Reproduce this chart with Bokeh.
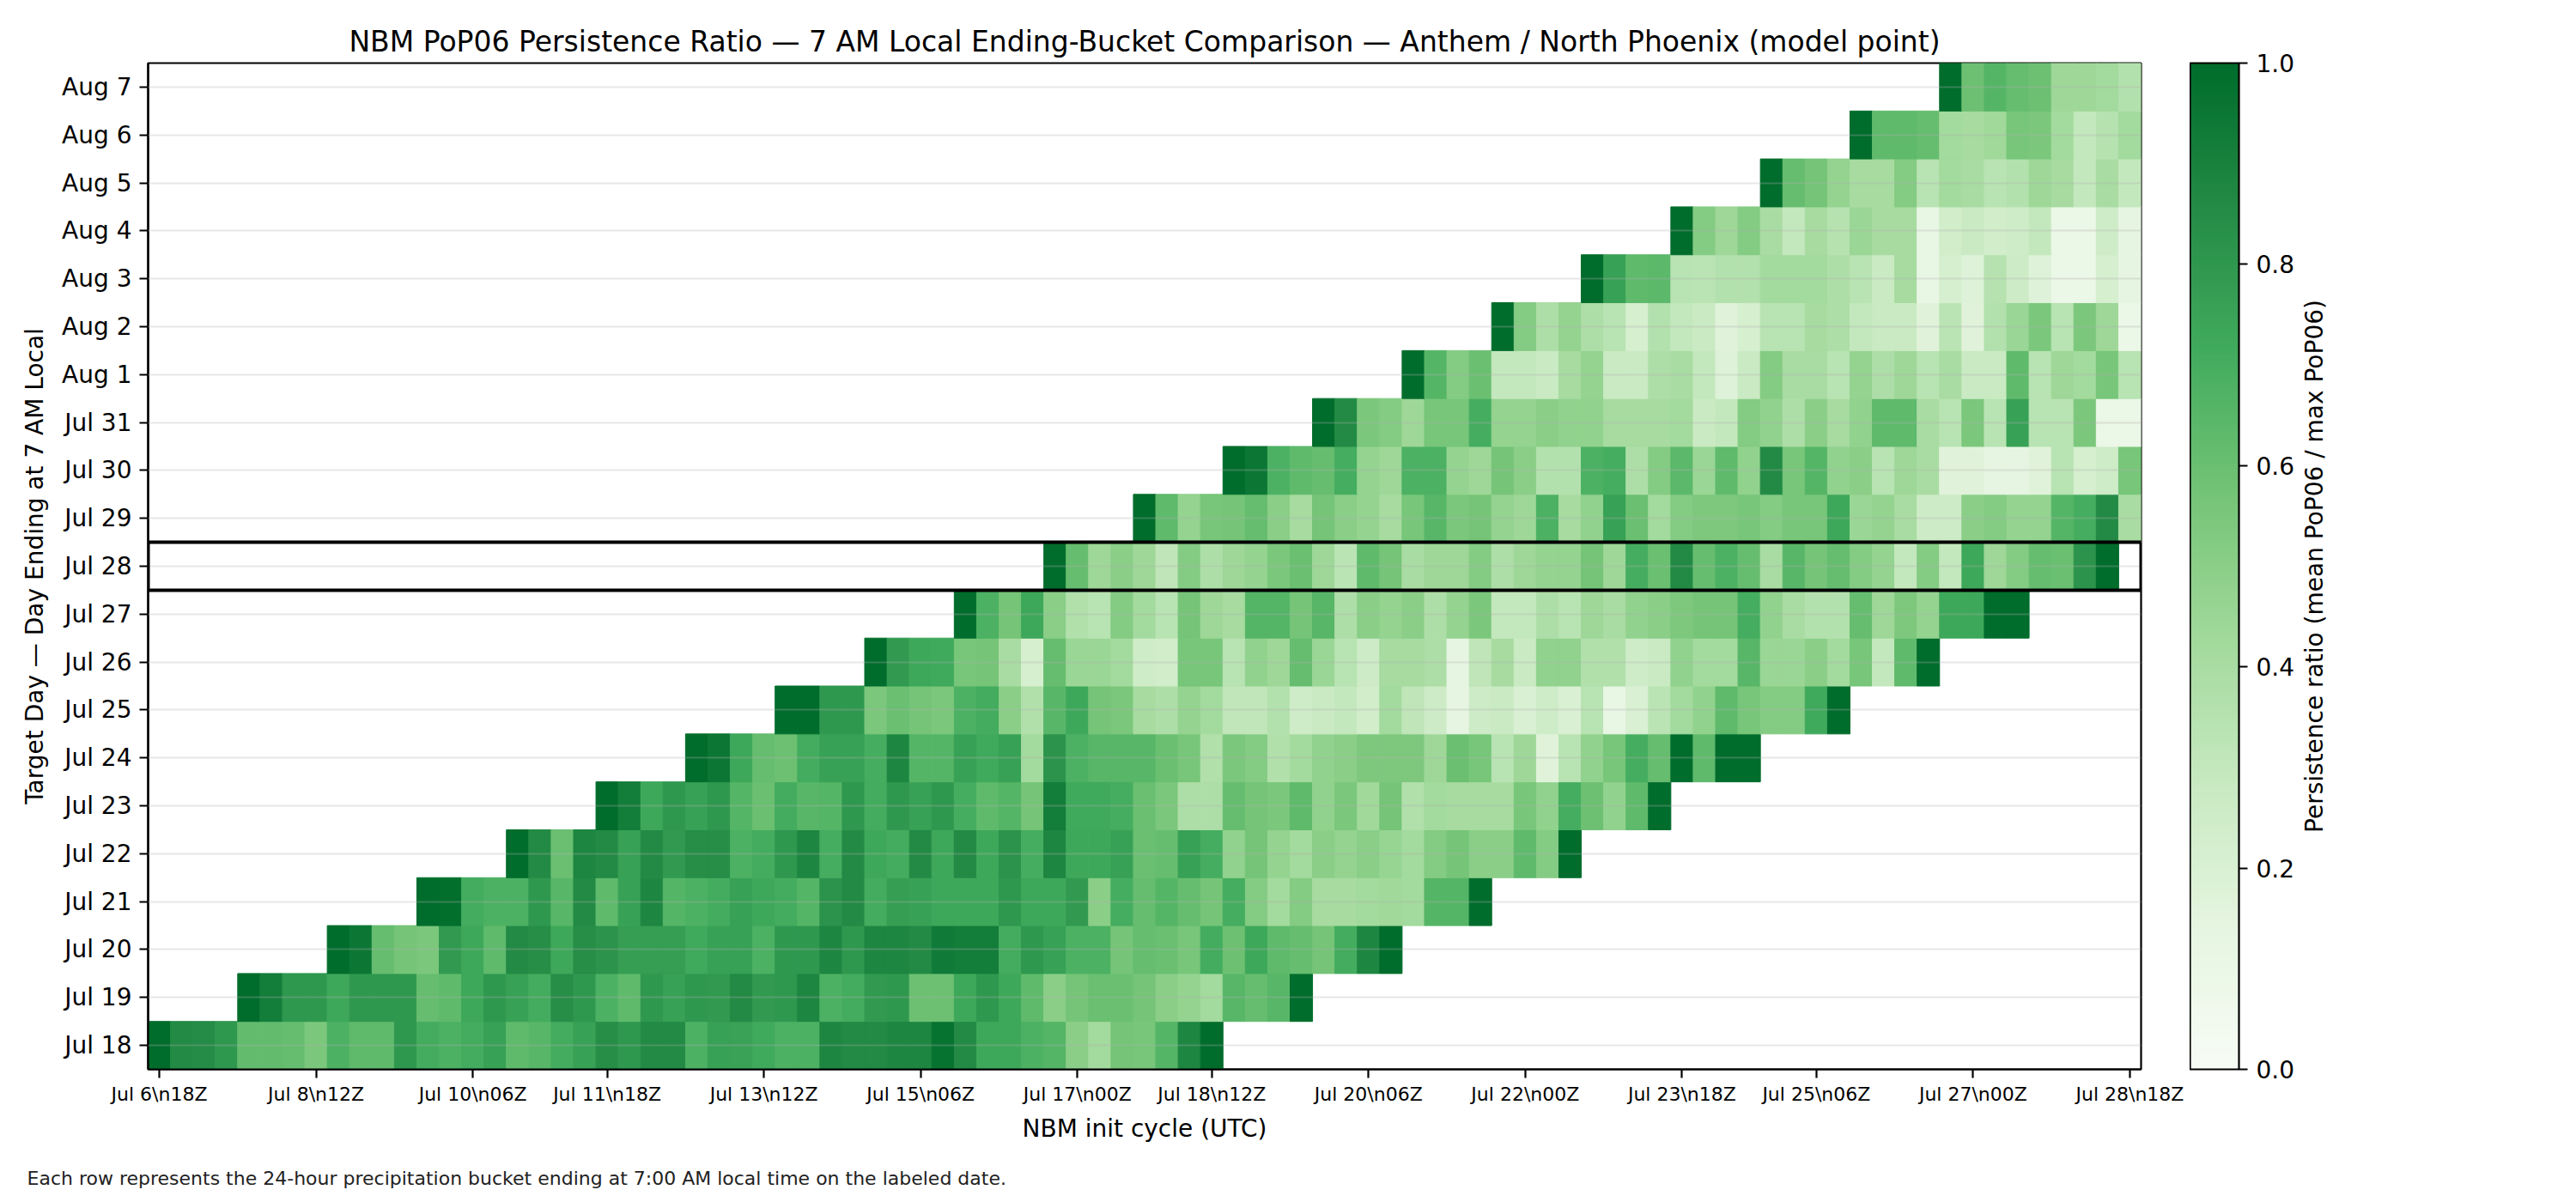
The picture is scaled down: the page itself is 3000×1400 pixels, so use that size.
import numpy as np
import pandas as pd
from bokeh.plotting import figure
from bokeh.layouts import row, column
from bokeh.models import (ColumnDataSource, Range1d, FixedTicker, BoxAnnotation, Label,
                          NumeralTickFormatter, LinearColorMapper, ColorBar)
from bokeh.embed import file_html
from bokeh.resources import INLINE

FONT = "DejaVu Sans"
TITLE = ("NBM PoP06 Persistence Ratio \u2014 7 AM Local Ending-Bucket Comparison "
         "\u2014 Anthem / North Phoenix (model point)")
FOOTER = ("Each row represents the 24-hour precipitation bucket ending at "
          "7:00 AM local time on the labeled date.")
CBAR_LABEL = "Persistence ratio (mean PoP06 / max PoP06)"

# NBM init cycles, every 6 h
cycles = pd.date_range("2025-07-06 18:00", "2025-07-28 18:00", freq="6h")
cycle_labels = [f"{d.strftime('%b')} {d.day}\\n{d.strftime('%H')}Z" for d in cycles]

tick_labels = ["Jul 6\\n18Z", "Jul 8\\n12Z", "Jul 10\\n06Z", "Jul 11\\n18Z", "Jul 13\\n12Z",
               "Jul 15\\n06Z", "Jul 17\\n00Z", "Jul 18\\n12Z", "Jul 20\\n06Z", "Jul 22\\n00Z",
               "Jul 23\\n18Z", "Jul 25\\n06Z", "Jul 27\\n00Z", "Jul 28\\n18Z"]

# target days (24-h bucket ending 7 AM local)
day_labels = ["Jul 18", "Jul 19", "Jul 20", "Jul 21", "Jul 22", "Jul 23", "Jul 24",
              "Jul 25", "Jul 26", "Jul 27", "Jul 28", "Jul 29", "Jul 30", "Jul 31",
              "Aug 1", "Aug 2", "Aug 3", "Aug 4", "Aug 5", "Aug 6", "Aug 7"]

# first init cycle that covers each target day
first_cycle = ["Jul 6\\n18Z", "Jul 7\\n18Z", "Jul 8\\n18Z", "Jul 9\\n18Z", "Jul 10\\n18Z",
               "Jul 11\\n18Z", "Jul 12\\n18Z", "Jul 13\\n18Z", "Jul 14\\n18Z", "Jul 15\\n18Z",
               "Jul 16\\n18Z", "Jul 17\\n18Z", "Jul 18\\n18Z", "Jul 19\\n18Z", "Jul 20\\n18Z",
               "Jul 21\\n18Z", "Jul 22\\n18Z", "Jul 23\\n18Z", "Jul 24\\n18Z", "Jul 25\\n18Z",
               "Jul 26\\n18Z"]

highlight_day = "Jul 28"

# persistence ratio per init cycle, one list per target day
jul18 = [1.0, 0.86, 0.85, 0.8, 0.62, 0.62, 0.61, 0.55, 0.68, 0.63, 0.63, 0.8, 0.71, 0.68, 0.71,
         0.76, 0.63, 0.65, 0.71, 0.76, 0.84, 0.8, 0.86, 0.86, 0.68, 0.76, 0.75, 0.72, 0.68, 0.68,
         0.88, 0.86, 0.86, 0.88, 0.88, 0.97, 0.86, 0.73, 0.73, 0.68, 0.66, 0.5, 0.42, 0.57, 0.56,
         0.66, 0.88, 1.0]
jul19 = [1.0, 0.92, 0.8, 0.8, 0.73, 0.8, 0.8, 0.8, 0.61, 0.63, 0.73, 0.8, 0.76, 0.71, 0.84,
         0.8, 0.68, 0.63, 0.8, 0.76, 0.8, 0.79, 0.86, 0.79, 0.8, 0.88,
         0.68, 0.71, 0.79, 0.8, 0.59, 0.59, 0.73, 0.8, 0.73, 0.63, 0.5, 0.57, 0.6, 0.6, 0.57,
         0.5, 0.47, 0.42, 0.65, 0.61, 0.65, 1.0]
jul20 = [1.0, 0.95, 0.61, 0.57, 0.55, 0.79, 0.73, 0.63, 0.86, 0.84, 0.73, 0.84, 0.82, 0.77,
         0.77, 0.77, 0.72, 0.76, 0.76, 0.68, 0.8, 0.8,
         0.88, 0.8, 0.88, 0.88, 0.86, 0.93, 0.92, 0.92, 0.71, 0.8, 0.76, 0.68, 0.68, 0.57, 0.61,
         0.6, 0.56, 0.71, 0.59, 0.73, 0.63, 0.61, 0.57, 0.71, 0.88, 1.0]
jul21 = [1.0, 0.99, 0.71, 0.68, 0.68, 0.8, 0.65, 0.86, 0.63, 0.76, 0.88, 0.66, 0.68, 0.71,
         0.76, 0.73, 0.71, 0.66,
         0.82, 0.86, 0.71, 0.77, 0.76, 0.73, 0.73, 0.73, 0.8, 0.73, 0.73, 0.79, 0.5, 0.7, 0.61,
         0.66, 0.61, 0.57, 0.7, 0.52, 0.42, 0.52, 0.41, 0.41, 0.42, 0.43, 0.42, 0.66, 0.66, 1.0]
jul22 = [1.0, 0.86, 0.6, 0.88, 0.86, 0.76, 0.86, 0.79, 0.84, 0.84, 0.68, 0.71, 0.8, 0.88, 0.7,
         0.86, 0.73, 0.71, 0.86, 0.73, 0.86, 0.73, 0.82, 0.7, 0.88, 0.73, 0.73, 0.76, 0.6, 0.61,
         0.76, 0.7, 0.48, 0.57, 0.47, 0.42, 0.5, 0.47, 0.5, 0.46, 0.42, 0.52, 0.57, 0.5, 0.5,
         0.63, 0.52, 1.0]
jul23 = [1.0, 0.92, 0.73, 0.8, 0.76, 0.8, 0.66, 0.6, 0.71, 0.65, 0.66, 0.8, 0.71, 0.8, 0.76,
         0.8, 0.7, 0.63, 0.66, 0.57, 0.92, 0.72, 0.72, 0.7, 0.6, 0.55,
         0.38, 0.38, 0.61, 0.57, 0.55, 0.63, 0.48, 0.55, 0.43, 0.57, 0.37, 0.42, 0.41, 0.41,
         0.41, 0.56, 0.48, 0.7, 0.59, 0.48, 0.63, 1.0]
jul24 = [1.0, 0.95, 0.73, 0.61, 0.59, 0.71, 0.76, 0.76, 0.7, 0.88, 0.66, 0.66, 0.76, 0.72,
         0.76, 0.42, 0.82, 0.68, 0.65, 0.65, 0.65, 0.6,
         0.56, 0.37, 0.55, 0.52, 0.37, 0.42, 0.48, 0.5, 0.54, 0.54, 0.54, 0.44, 0.6, 0.56, 0.34,
         0.44, 0.17, 0.34, 0.48, 0.56, 0.7, 0.61, 1.0, 0.63, 1.0, 1.0]
jul25 = [1.0, 1.0, 0.8, 0.8, 0.55, 0.6, 0.57, 0.55, 0.68, 0.71, 0.5, 0.37, 0.65, 0.73, 0.57,
         0.55, 0.41, 0.38,
         0.47, 0.42, 0.31, 0.31, 0.36, 0.25, 0.28, 0.3, 0.24, 0.42, 0.32, 0.26, 0.14, 0.26, 0.28,
         0.2, 0.25, 0.2, 0.34, 0.12, 0.2, 0.33, 0.42, 0.48, 0.63, 0.56, 0.52, 0.52, 0.72, 1.0]
jul26 = [1.0, 0.79, 0.73, 0.72, 0.56, 0.57, 0.4, 0.22, 0.61, 0.45, 0.45, 0.42, 0.25, 0.24,
         0.56, 0.56, 0.34, 0.48, 0.44, 0.61, 0.45, 0.34, 0.26, 0.41, 0.41, 0.38, 0.14, 0.32,
         0.41, 0.28, 0.48, 0.48, 0.37, 0.37, 0.25, 0.27, 0.48, 0.42, 0.42, 0.65, 0.45, 0.45,
         0.5, 0.42, 0.56, 0.3, 0.63, 1.0]
jul27 = [1.0, 0.68, 0.57, 0.73, 0.5, 0.37, 0.34, 0.52, 0.42, 0.34, 0.57, 0.44, 0.41, 0.66,
         0.66, 0.57, 0.65, 0.38, 0.5, 0.47, 0.5, 0.38, 0.47, 0.55,
         0.3, 0.3, 0.38, 0.34, 0.44, 0.4, 0.48, 0.5, 0.54, 0.57, 0.57, 0.7, 0.48, 0.4, 0.36,
         0.36, 0.61, 0.44, 0.54, 0.47, 0.73, 0.73, 1.0, 1.0]
jul28 = [1.0, 0.61, 0.44, 0.5, 0.44, 0.32, 0.52, 0.38, 0.44, 0.47, 0.55, 0.6, 0.44, 0.33,
         0.63, 0.57, 0.4, 0.44, 0.44, 0.52,
         0.38, 0.44, 0.47, 0.47, 0.57, 0.44, 0.7, 0.6, 0.86, 0.61, 0.68, 0.61, 0.4, 0.65, 0.57,
         0.61, 0.52, 0.47, 0.3, 0.52, 0.3, 0.73, 0.44, 0.52, 0.61, 0.6, 0.82, 1.0]
jul29 = [1.0, 0.63, 0.47, 0.56, 0.57, 0.61, 0.5, 0.41, 0.57, 0.5, 0.47, 0.41, 0.56, 0.65,
         0.55, 0.57,
         0.47, 0.44, 0.68, 0.41, 0.48, 0.76, 0.6, 0.42, 0.52, 0.54, 0.54, 0.56, 0.52, 0.56,
         0.56, 0.73, 0.45, 0.47, 0.4, 0.26, 0.26, 0.5, 0.52, 0.47, 0.47, 0.66, 0.7, 0.86, 0.4]
jul30 = [1.0, 0.95, 0.68, 0.63, 0.61, 0.7, 0.47, 0.44, 0.68, 0.68, 0.47, 0.44, 0.57, 0.5,
         0.36, 0.36, 0.68, 0.7, 0.38, 0.52,
         0.64, 0.45, 0.63, 0.48, 0.86, 0.56, 0.66, 0.48, 0.5, 0.34, 0.44, 0.4, 0.17, 0.17, 0.14,
         0.14, 0.17, 0.34, 0.22, 0.25, 0.56]
jul31 = [1.0, 0.86, 0.55, 0.52, 0.44, 0.56, 0.56, 0.7, 0.47, 0.47, 0.5, 0.48, 0.48, 0.41,
         0.41, 0.41,
         0.42, 0.27, 0.3, 0.52, 0.48, 0.38, 0.5, 0.41, 0.48, 0.63, 0.63, 0.4, 0.34, 0.55, 0.34,
         0.76, 0.34, 0.34, 0.55, 0.1, 0.1]
aug1 = [1.0, 0.66, 0.52, 0.6, 0.3, 0.3, 0.28, 0.41, 0.47, 0.28, 0.27, 0.38,
        0.4, 0.3, 0.18, 0.27, 0.52, 0.4, 0.4, 0.34, 0.47, 0.38, 0.44, 0.34, 0.4, 0.28, 0.28,
        0.63, 0.34, 0.44, 0.42, 0.56, 0.34]
aug2 = [1.0, 0.52, 0.38, 0.47, 0.38, 0.34, 0.22, 0.36,
        0.3, 0.27, 0.17, 0.22, 0.34, 0.34, 0.41, 0.38, 0.3, 0.28, 0.27, 0.17, 0.33, 0.17, 0.36,
        0.45, 0.55, 0.34, 0.55, 0.44, 0.1]
aug3 = [1.0, 0.76, 0.63, 0.64, 0.34, 0.33, 0.36, 0.36, 0.42, 0.42, 0.42, 0.38, 0.34, 0.27,
        0.41, 0.12, 0.22, 0.18, 0.35, 0.26, 0.18, 0.1, 0.1, 0.22, 0.14]
aug4 = [1.0, 0.52, 0.44, 0.52, 0.4, 0.3, 0.41, 0.35, 0.45, 0.41, 0.41, 0.12, 0.24, 0.28,
        0.24, 0.25, 0.3, 0.1, 0.1, 0.25, 0.14]
aug5 = [1.0, 0.61, 0.57, 0.47, 0.41, 0.41, 0.52, 0.34, 0.42, 0.4, 0.34, 0.36, 0.44, 0.41,
        0.3, 0.4, 0.3]
aug6 = [1.0, 0.63, 0.63, 0.61, 0.42, 0.41, 0.43, 0.56, 0.55, 0.42, 0.3, 0.35, 0.42]
aug7 = [1.0, 0.59, 0.66, 0.61, 0.59, 0.44, 0.44, 0.42, 0.36]

rows = [jul18, jul19, jul20, jul21, jul22, jul23, jul24, jul25, jul26, jul27, jul28,
        jul29, jul30, jul31, aug1, aug2, aug3, aug4, aug5, aug6, aug7]

# Greens (ColorBrewer) ramp, light to dark
greens_nodes = ["#f7fcf5", "#e5f5e0", "#c7e9c0", "#a1d99b",
                "#74c476", "#41ab5d", "#238b45", "#006d2c"]


def build_palette(nodes, n=256):
    rgb = np.array([[int(h[i:i + 2], 16) for i in (1, 3, 5)] for h in nodes], float)
    pos = np.linspace(0, 1, len(nodes))
    t = np.linspace(0, 1, n)
    chans = [np.interp(t, pos, rgb[:, k]) for k in range(3)]
    return ["#%02x%02x%02x" % (int(round(r)), int(round(g)), int(round(b)))
            for r, g, b in zip(*chans)]


palette = build_palette(greens_nodes)
mapper = LinearColorMapper(palette=palette, low=0, high=1)

# long-form cell table
xs, ys, vals = [], [], []
for ri, (vals_row, first) in enumerate(zip(rows, first_cycle)):
    start = cycle_labels.index(first)
    for k, v in enumerate(vals_row):
        xs.append(start + k)
        ys.append(ri)
        vals.append(v)
src = ColumnDataSource(dict(x=xs, y=ys, ratio=vals))

n_cycles = len(cycle_labels)
n_days = len(day_labels)

# ---- heatmap -------------------------------------------------------------
p = figure(width=2550, height=1345,
           x_range=Range1d(-0.5, n_cycles - 0.5), y_range=Range1d(-0.5, n_days - 0.5),
           output_backend="svg", toolbar_location=None,
           min_border_left=172, min_border_right=57, min_border_top=73, min_border_bottom=100)
p.background_fill_color = "white"
p.border_fill_color = "white"

cell_color = {"field": "ratio", "transform": mapper}
p.rect(x="x", y="y", width=1, height=1, source=src,
       fill_color=cell_color, line_color=cell_color, line_width=1)

p.title.text = TITLE
p.title.align = "center"
p.title.text_font = FONT
p.title.text_font_size = "33px"
p.title.text_font_style = "normal"
p.title.text_color = "black"
p.title.standoff = 12

tick_idx = [cycle_labels.index(t) for t in tick_labels]
p.xaxis.ticker = FixedTicker(ticks=tick_idx)
p.xaxis.major_label_overrides = {i: t for i, t in zip(tick_idx, tick_labels)}
p.yaxis.ticker = FixedTicker(ticks=list(range(n_days)))
p.yaxis.major_label_overrides = {i: d for i, d in enumerate(day_labels)}
p.xaxis.axis_label = "NBM init cycle (UTC)"
p.yaxis.axis_label = "Target Day \u2014 Day Ending at 7 AM Local"

for ax in (p.xaxis[0], p.yaxis[0]):
    ax.axis_line_color = "black"
    ax.axis_line_width = 2.2
    ax.major_tick_line_color = "black"
    ax.major_tick_line_width = 2.2
    ax.major_tick_out = 10
    ax.major_tick_in = 0
    ax.minor_tick_line_color = None
    ax.major_label_text_font = FONT
    ax.major_label_text_color = "black"
    ax.axis_label_text_font = FONT
    ax.axis_label_text_font_style = "normal"
    ax.axis_label_text_font_size = "28px"
    ax.axis_label_text_color = "black"

p.xaxis.major_label_text_font_size = "22px"
p.xaxis.major_label_standoff = 6
p.xaxis.axis_label_standoff = 8
p.yaxis.major_label_text_font_size = "28px"
p.yaxis.major_label_standoff = 9
p.yaxis.axis_label_standoff = 12

p.xgrid.visible = False
p.ygrid.ticker = FixedTicker(ticks=list(range(n_days)))
p.ygrid.grid_line_color = "#b0b0b0"
p.ygrid.grid_line_alpha = 0.3
p.ygrid.grid_line_width = 2.2
p.ygrid.level = "annotation"

p.outline_line_color = "black"
p.outline_line_width = 2.2
p.outline_line_alpha = 1.0

# highlighted target day
hi = day_labels.index(highlight_day)
p.add_layout(BoxAnnotation(left=-0.5, right=n_cycles - 0.5, bottom=hi - 0.5, top=hi + 0.5,
                           fill_alpha=0, line_color="black", line_alpha=1.0, line_width=4,
                           level="overlay"))

# ---- colour bar panel ----------------------------------------------------
cb = figure(width=450, height=1345, x_range=Range1d(0, 450), y_range=Range1d(0, 1172),
            output_backend="svg", toolbar_location=None,
            x_axis_location=None, y_axis_location=None,
            min_border_left=0, min_border_right=0, min_border_top=73, min_border_bottom=100)
cb.outline_line_color = None
cb.background_fill_color = "white"
cb.border_fill_color = "white"
cb.xgrid.visible = False
cb.ygrid.visible = False

color_bar = ColorBar(color_mapper=mapper, location="top_left", orientation="vertical",
                     width=57, height=1172, padding=0, margin=0,
                     ticker=FixedTicker(ticks=[0.0, 0.2, 0.4, 0.6, 0.8, 1.0]),
                     formatter=NumeralTickFormatter(format="0.0"),
                     major_label_text_font=FONT, major_label_text_font_size="28px",
                     major_label_text_color="black",
                     major_tick_line_color="black", major_tick_line_width=2.2,
                     major_tick_out=10, major_tick_in=0,
                     minor_tick_line_color=None,
                     bar_line_color="black", bar_line_width=2.2,
                     border_line_color=None, background_fill_color=None,
                     label_standoff=10)
cb.add_layout(color_bar, "center")
cb.add_layout(Label(x=145, y=586, text=CBAR_LABEL, angle=np.pi / 2,
                    text_font=FONT, text_font_size="28px", text_color="black",
                    text_align="center", text_baseline="middle"))

# ---- footer note ---------------------------------------------------------
foot = figure(width=3000, height=55, x_range=Range1d(0, 3000), y_range=Range1d(0, 55),
              output_backend="svg", toolbar_location=None,
              x_axis_location=None, y_axis_location=None,
              min_border_left=0, min_border_right=0, min_border_top=0, min_border_bottom=0)
foot.outline_line_color = None
foot.background_fill_color = "white"
foot.border_fill_color = "white"
foot.xgrid.visible = False
foot.ygrid.visible = False
foot.add_layout(Label(x=31, y=28, text=FOOTER, text_font=FONT, text_font_size="22px",
                      text_color="#222222", text_align="left", text_baseline="middle"))

layout = column(row(p, cb), foot)
open("out.html", "w").write(file_html(layout, INLINE))
